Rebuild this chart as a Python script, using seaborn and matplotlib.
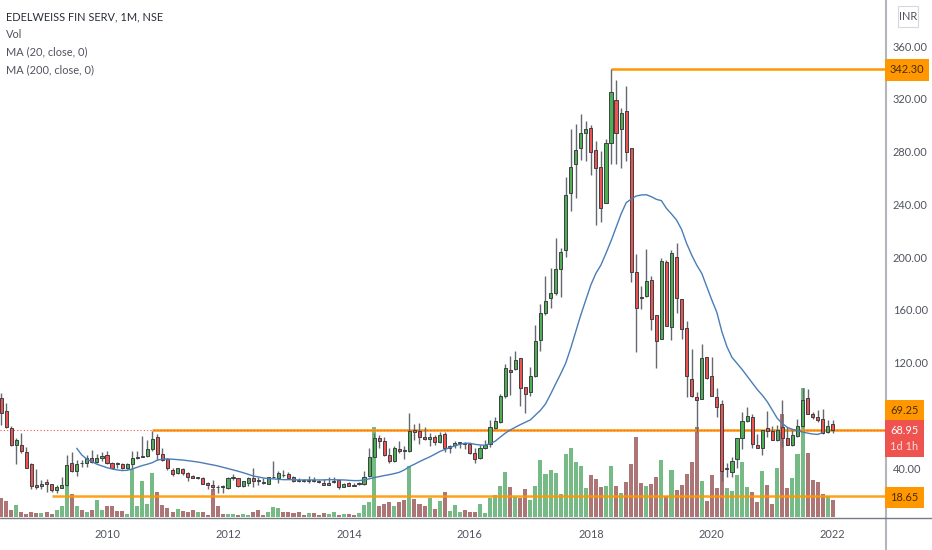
import numpy as np
import pandas as pd
import matplotlib
matplotlib.use("Agg")
import matplotlib.pyplot as plt
from matplotlib.patches import Rectangle
from matplotlib.lines import Line2D
import seaborn as sns

# months counted from January 2010
first_month = -21
opens = [93.0,83.6,70.3,57.6,57.6,52.6,43.2,27.3,26.5,29.3,27.8,23.5,25.3,27.3,43.7,38.2,44.2,43.7,47.5,45.0,47.8,
 50.0,43.7,43.7,43.2,39.9,43.0,47.8,48.5,49.0,54.8,63.4,50.8,46.8,38.4,36.6,39.4,36.6,33.9,32.4,32.9,28.8,27.5,26.0,26.3,
 25.0,32.9,32.4,26.5,29.1,32.4,30.6,29.3,28.3,33.1,32.9,35.1,35.4,33.1,30.6,
 30.8,30.1,30.8,30.1,29.1,27.5,29.3,30.8,25.8,28.6,27.5,27.8,28.3,34.1,48.8,62.7,60.4,49.8,45.7,54.6,53.6,53.1,69.0,68.2,63.4,
 61.9,63.4,60.2,66.0,55.1,57.9,58.9,59.4,58.1,51.6,47.5,55.6,58.1,70.8,75.3,95.0,114.7,115.2,123.3,101.8,98.0,109.9,136.9,157.9,168.8,172.6,190.8,
 205.4,248.8,270.8,282.4,294.3,298.1,281.2,268.0,241.2,286.2,319.1,297.3,310.5,282.4,188.4,170.0,170.5,182.4,155.8,137.9,196.5,147.2,200.3,168.2,146.5,107.3,94.2,92.4,124.0,110.1,94.2,
 88.4,39.1,37.3,46.9,62.6,75.5,78.8,57.8,55.5,70.2,68.4,61.1,70.9,62.6,57.8,64.6,72.2,92.9,81.3,79.0,77.2,67.1,73.4]
highs = [96.8,89.7,72.0,62.7,66.5,56.4,44.2,39.2,31.1,32.1,28.0,27.3,33.1,50.0,52.6,46.2,46.2,50.0,53.8,50.8,52.6,
 53.1,44.7,45.0,43.7,43.7,53.3,52.8,64.4,61.4,68.5,65.7,55.6,47.5,40.4,40.4,40.4,36.9,35.1,33.4,33.4,29.8,31.1,27.3,27.3,
 33.1,35.6,32.9,30.6,33.1,39.9,33.6,32.4,33.6,45.7,38.2,38.7,37.4,34.1,32.4,
 32.1,34.1,33.1,31.1,31.6,33.6,33.6,32.1,29.1,29.6,28.6,29.8,38.2,55.1,66.5,65.2,63.9,55.1,56.9,60.4,57.1,82.1,73.5,74.0,71.5,
 67.0,65.2,67.7,67.7,57.6,60.4,59.9,59.9,58.9,55.1,57.6,61.4,76.6,79.1,96.0,118.7,125.1,128.9,123.3,101.8,117.0,148.6,164.5,185.7,191.5,214.2,207.1,
 261.0,296.8,300.9,308.5,303.2,300.1,288.2,280.4,289.3,342.3,334.2,312.8,329.7,282.9,202.1,178.1,205.9,185.6,155.8,199.0,197.8,205.4,210.4,168.2,151.5,130.0,98.0,134.1,124.0,124.0,101.0,
 91.6,43.6,48.7,62.6,82.8,86.6,81.0,65.9,69.2,83.6,72.2,72.7,91.6,71.4,68.9,77.5,100.5,100.0,82.3,84.1,84.6,76.5,76.5]
lows = [72.8,70.5,56.9,43.0,51.8,39.9,24.0,24.0,24.0,22.2,22.2,21.5,24.8,26.5,37.4,34.1,40.7,40.7,44.2,44.2,45.5,
 43.0,39.9,40.4,39.7,39.2,39.2,47.0,48.3,48.8,53.3,46.2,45.5,38.7,34.4,35.6,34.9,30.3,32.4,31.9,27.8,24.0,23.5,21.5,21.0,
 24.5,31.1,26.0,26.0,26.5,25.5,27.3,27.8,27.8,32.4,29.1,33.1,32.4,29.8,29.6,
 29.6,29.1,29.6,28.6,27.0,27.0,29.1,24.5,25.5,26.3,26.5,27.0,27.5,33.1,48.3,55.1,49.3,44.2,45.0,51.3,46.8,52.6,61.4,58.4,61.4,
 56.9,57.6,58.9,52.6,51.8,55.1,55.3,54.6,50.8,44.2,46.8,54.6,56.4,69.5,74.5,93.0,95.5,114.4,87.2,81.6,94.7,109.4,129.1,156.1,161.7,171.3,169.5,
 200.3,235.2,245.0,273.6,272.8,262.2,224.3,226.3,240.7,270.6,270.6,267.8,272.8,181.4,128.3,160.4,170.0,144.7,115.6,137.6,147.7,137.1,157.8,137.6,94.2,94.2,67.6,92.2,107.8,94.9,78.5,
 30.5,33.5,33.5,39.8,54.2,75.0,55.0,55.0,50.0,63.8,61.3,60.6,56.3,57.3,56.8,63.3,71.4,80.8,77.5,75.2,65.9,66.4,66.9]
closes = [81.6,71.0,57.6,61.4,53.1,40.4,26.5,26.0,27.8,28.3,23.5,25.5,27.0,42.2,38.2,43.0,43.7,47.5,45.0,47.8,49.3,
 43.7,40.4,43.2,40.4,43.2,47.8,48.5,49.3,54.8,61.9,50.8,46.2,40.2,35.6,39.9,36.6,33.6,32.9,32.9,28.3,27.0,25.8,25.5,25.8,
 32.4,33.4,26.5,30.1,32.4,30.6,30.1,28.6,33.1,33.6,36.1,34.6,32.9,30.6,30.1,
 30.1,30.6,30.1,29.6,27.5,29.1,30.1,26.0,28.3,26.8,26.8,28.6,33.6,48.5,62.7,60.9,49.8,45.5,55.1,53.1,53.1,68.5,67.2,63.4,61.9,
 63.4,60.2,65.2,55.6,57.1,59.4,59.4,58.1,51.8,46.8,55.6,57.9,71.0,75.6,94.7,115.7,112.9,121.8,101.1,96.5,109.9,136.4,157.4,166.8,173.1,190.8,204.2,
 247.1,268.0,281.2,294.3,296.8,279.9,267.8,237.5,286.7,325.4,294.3,309.0,279.4,188.9,161.6,169.0,181.6,153.3,136.1,197.3,148.0,202.8,168.7,145.7,109.8,94.4,91.9,123.2,108.3,94.9,86.6,
 37.8,39.8,45.4,62.6,75.7,79.5,58.5,55.5,69.2,67.9,61.6,68.6,62.6,57.8,64.9,71.7,91.4,81.3,78.5,76.2,66.4,71.7,68.95]
volumes = [57,47,22,37,16,10,16,12,13,14,10,22,34,92,69,34,20,16,22,52,22,
 32,32,17,19,10,144,32,109,40,132,74,37,28,16,24,19,14,20,14,14,7,84,34,10,10,10,7,10,7,16,22,7,16,31,28,16,16,13,16,
 7,12,12,7,12,10,15,7,10,9,7,13,37,46,270,32,40,46,34,46,52,154,55,40,34,58,25,49,74,19,37,16,22,16,16,40,13,58,65,92,136,90,61,58,84,52,92,172,130,142,133,68,
 188,207,166,154,87,127,115,89,93,153,93,71,104,160,239,101,92,98,120,172,62,141,80,95,129,166,269,107,49,126,86,143,86,79,126,166,89,74,46,138,95,40,147,308,86,116,188,386,193,110,104,70,63,50]
ma_first_month = -6
ma_values = [55.1,50.0,46.8,45.0,43.0,41.7,40.4,39.4,38.7,38.2,38.4,39.4,40.7,42.0,43.0,44.2,46.2,46.8,47.0,46.8,46.5,46.2,45.7,45.2,44.7,44.0,43.2,42.5,41.7,40.7,39.7,38.7,37.7,36.6,35.4,34.1,33.4,32.6,32.1,31.9,31.6,31.3,31.3,31.3,31.1,
 31.1,31.1,31.1,31.1,31.1,31.3,31.3,31.1,31.1,30.8,30.6,30.6,31.1,31.9,32.9,33.6,34.4,35.1,35.9,36.9,38.7,41.2,43.0,45.0,46.8,48.5,50.5,52.6,54.1,55.6,56.9,58.1,58.9,58.9,58.1,57.6,57.4,58.6,60.4,63.4,66.5,69.0,71.0,73.0,74.8,76.6,
 80.3,83.9,88.7,96.0,103.8,111.4,119.5,130.9,143.5,156.1,167.5,178.9,187.7,194.0,202.9,212.2,222.5,232.7,241.2,244.0,246.3,247.1,247.3,245.8,243.8,242.8,236.9,232.7,228.1,
 221.0,210.4,201.6,194.0,187.7,177.6,167.5,158.1,143.4,132.1,124.0,119.4,114.9,109.8,104.8,99.7,95.4,90.4,84.1,77.7,73.9,70.9,69.4,68.4,67.4,66.6,65.9,65.6,66.9]
year_labels = ["2010", "2012", "2014", "2016", "2018", "2020", "2022"]
year_months = [0, 24, 48, 72, 96, 120, 144]
price_ticks = [360, 320, 280, 240, 200, 160, 120, 40]
level_high = 342.30
level_mid = 69.0
level_low = 18.65
level_high_start, level_mid_start, level_low_start = 100, 9, -11
legend_lines = ["EDELWEISS FIN SERV, 1M, NSE", "Vol", "MA (20, close, 0)", "MA (200, close, 0)"]

W, H = 932, 550
sns.set_theme(style="white")
plt.rcParams["font.family"] = ["Lato", "DejaVu Sans"]

UP, DOWN = "#4CAF50", "#EF5350"
VOL_UP, VOL_DOWN = "#76ba85", "#ad7676"
ORANGE = "#FF9800"
TXT = "#50535e"
FS = 7.9

df = pd.DataFrame({"open": opens, "high": highs, "low": lows, "close": closes, "volume": volumes})
df["month"] = first_month + np.arange(len(df))
df["dir"] = np.where(df["close"] >= df["open"], "up", "down")
ma = pd.DataFrame({"ma": ma_values})
ma["month"] = ma_first_month + np.arange(len(ma))

fig = plt.figure(figsize=(W / 100, H / 100), dpi=100, facecolor="white")
rect = [0, (H - 517) / H, 886 / W, 517 / H]
ax_v = fig.add_axes(rect, zorder=1)
ax = fig.add_axes(rect, zorder=2)
ax.patch.set_visible(False)

xlim = (-21.23, 154.56)
sns.barplot(data=df, x="month", y="volume", hue="dir", palette={"up": VOL_UP, "down": VOL_DOWN},
            native_scale=True, dodge=False, width=0.8, legend=False, ax=ax_v, linewidth=0, saturation=1)
ax_v.set_xlim(*xlim)
ax_v.set_ylim(0, 1551)
ax_v.axis("off")

# levels
ax.plot([level_high_start, xlim[1]], [level_high] * 2, color=ORANGE, lw=1.8, solid_capstyle="butt", zorder=2)
ax.plot([level_mid_start, xlim[1]], [level_mid] * 2, color=ORANGE, lw=1.8, solid_capstyle="butt", zorder=2)
ax.plot([level_low_start, xlim[1]], [level_low] * 2, color=ORANGE, lw=1.8, solid_capstyle="butt", zorder=2, alpha=.9)
ax.plot(list(xlim), [closes[-1]] * 2, color="#ef5350", lw=.8, ls=(0, (1, 2)), zorder=2.1)

# candles
colors = np.where(df["dir"] == "up", UP, DOWN)
ax.vlines(df["month"], df["low"], df["high"], color="#65686f", lw=1.0, zorder=3)
ax.bar(df["month"], (df["close"] - df["open"]).abs().clip(lower=0.6), bottom=df[["open", "close"]].min(axis=1),
       width=0.62, color=colors, edgecolor="#3c4046", linewidth=0.7, zorder=4)

sns.lineplot(data=ma, x="month", y="ma", color="#4a7db5", lw=1.0, ax=ax, zorder=5, errorbar=None)

ax.set_xlim(*xlim)
ax.set_ylim(3.0, 394.9)
ax.set_xlabel("")
ax.set_ylabel("")
for s in ax.spines.values():
    s.set_visible(False)
ax.yaxis.tick_right()
ax.set_yticks(price_ticks)
ax.set_yticklabels([f"{p:.2f}" for p in price_ticks], fontsize=FS, color=TXT)
ax.set_xticks(year_months)
ax.set_xticklabels(year_labels, fontsize=FS, color=TXT)
ax.tick_params(axis="y", length=0, pad=5)
ax.tick_params(axis="x", length=0, pad=9)
ax.grid(False)


def fx(x):
    return x / W


def fy(y):
    return 1 - y / H


fig.add_artist(Line2D([fx(885.5)] * 2, [0, 1], color="#b2b5be", lw=1.5, zorder=6))
fig.add_artist(Line2D([0, 1], [fy(517.5)] * 2, color="#787b86", lw=1.0, zorder=6))


def box(x0, y0, x1, y1, color, lines):
    fig.add_artist(Rectangle((fx(x0), fy(y1)), (x1 - x0) / W, (y1 - y0) / H,
                             transform=fig.transFigure, fc=color, ec="none", zorder=7))
    for text, ty, tc in lines:
        fig.text(fx((x0 + x1) / 2), fy(ty), text, ha="center", va="center", fontsize=FS, color=tc, zorder=8)


box(885, 59, 929, 81, ORANGE, [(f"{level_high:.2f}", 70, "#4a2c00")])
box(885, 400, 924, 420, ORANGE, [("69.25", 411, "#4a2c00")])
box(885, 420, 924, 457, "#EF5350", [(f"{closes[-1]:.2f}", 431, "white"), ("1d 1h", 447, "#fbdcdc")])
box(885, 487, 924, 508, ORANGE, [(f"{level_low:.2f}", 497.5, "#4a2c00")])

# INR tag
fig.add_artist(Rectangle((fx(898), fy(27)), 20 / W, 21 / H, transform=fig.transFigure, fc="white", ec="#d6d8de", lw=.8, zorder=7))
fig.text(fx(908), fy(16.5), "INR", ha="center", va="center", fontsize=FS, color=TXT, zorder=8)

for text, ty, tc in zip(legend_lines, [17, 34, 52, 70], ["#2a2e39", TXT, TXT, TXT]):
    fig.text(fx(6), fy(ty), text, ha="left", va="center", fontsize=FS, color=tc, zorder=8)

fig.savefig("out.png", dpi=100)
